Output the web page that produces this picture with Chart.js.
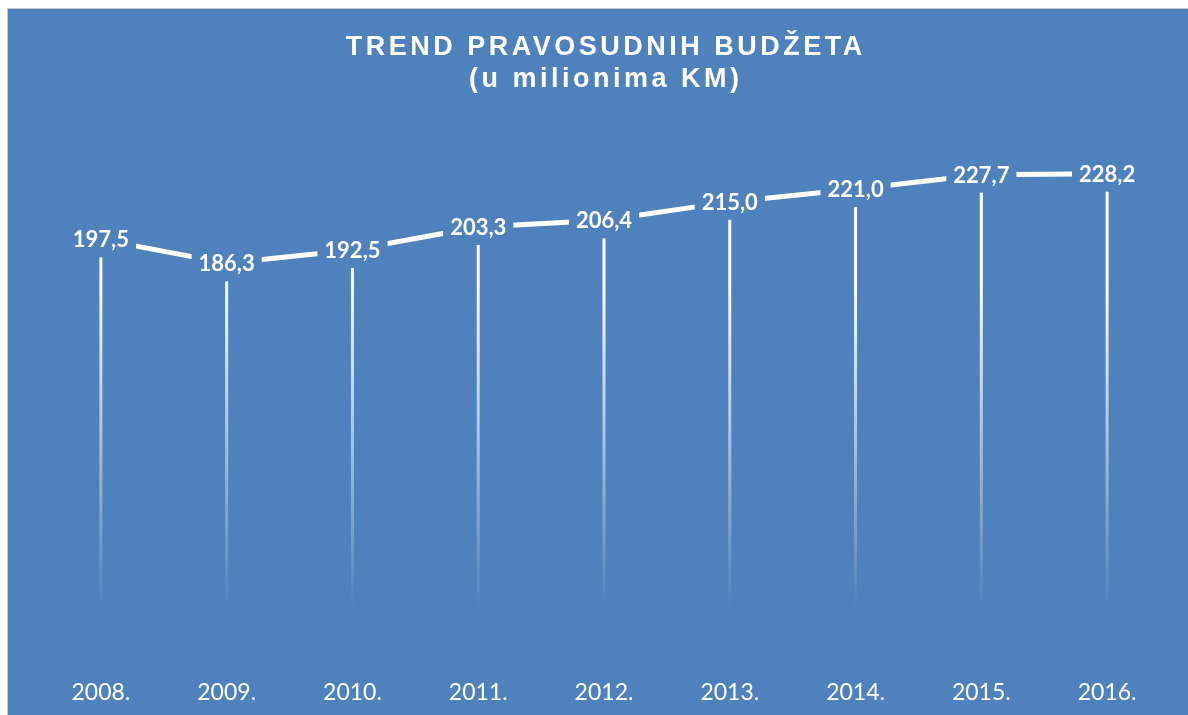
<!DOCTYPE html>
<html>
<head>
<meta charset="utf-8">
<script src="https://cdn.jsdelivr.net/npm/chart.js@4/dist/chart.umd.min.js"></script>
<style>
  html, body { margin: 0; background: #fff; overflow: hidden; }
  #wrap {
    position: absolute; left: 7px; top: 8px;
    width: 1200px; height: 720px;
    border-left: 1px solid #c9c9c9; border-top: 1px solid #c9c9c9;
    background: #4F81BD;
  }
  canvas { display: block; }
</style>
</head>
<body>
<div id="wrap"><canvas id="trend" width="1180" height="706"></canvas></div>
<script>
// podaci
const years = ['2008.', '2009.', '2010.', '2011.', '2012.', '2013.', '2014.', '2015.', '2016.'];
const budget = [197.5, 186.3, 192.5, 203.3, 206.4, 215.0, 221.0, 227.7, 228.2];
const titleLines = ['TREND PRAVOSUDNIH BUDŽETA', '(u milionima KM)'];

const BG = '#4F81BD';

// naslov sa razmakom slova
const titlePlugin = {
    id: 'titleText',
    afterDraw(chart) {
        const ctx = chart.ctx;
        const cx = (chart.chartArea.left + chart.chartArea.right) / 2;
        ctx.save();
        ctx.fillStyle = '#fff';
        ctx.font = 'bold 27px "Liberation Sans", Arial, sans-serif';
        ctx.letterSpacing = '3.5px';
        ctx.textAlign = 'center';
        ctx.textBaseline = 'middle';
        ctx.fillText(titleLines[0], cx + 1.75, 39);
        ctx.fillText(titleLines[1], cx + 1.75, 71);
        ctx.restore();
    }
};

// vertikalne linije od tačke do ose
const dropLines = {
    id: 'dropLines',
    beforeDatasetsDraw(chart) {
        const ctx = chart.ctx;
        const meta = chart.getDatasetMeta(0);
        const yScale = chart.scales.y;
        const grad = ctx.createLinearGradient(0, 270, 0, 602);
        grad.addColorStop(0, 'rgba(255,255,255,1)');
        grad.addColorStop(1, 'rgba(255,255,255,0)');
        ctx.save();
        ctx.strokeStyle = grad;
        ctx.lineWidth = 3;
        meta.data.forEach(pt => {
            ctx.beginPath();
            ctx.moveTo(pt.x, pt.y);
            ctx.lineTo(pt.x, yScale.getPixelForValue(0));
            ctx.stroke();
        });
        ctx.restore();
    }
};

// oznake vrijednosti
const valueLabels = {
    id: 'valueLabels',
    afterDatasetsDraw(chart) {
        const ctx = chart.ctx;
        const meta = chart.getDatasetMeta(0);
        ctx.save();
        ctx.font = 'bold 22px Lato, "Open Sans", sans-serif';
        ctx.textAlign = 'center';
        ctx.textBaseline = 'middle';
        meta.data.forEach((pt, i) => {
            const txt = budget[i].toFixed(1).replace('.', ',');
            const w = ctx.measureText(txt).width + 14;
            ctx.fillStyle = BG;
            ctx.fillRect(pt.x - w / 2, pt.y - 18, w, 36);
            ctx.fillStyle = '#fff';
            ctx.fillText(txt, pt.x, pt.y + 1);
        });
        ctx.restore();
    }
};

const ctx = document.getElementById('trend').getContext('2d');
new Chart(ctx, {
    type: 'line',
    data: {
        labels: years,
        datasets: [{
            data: budget,
            borderColor: '#fff',
            borderWidth: 5,
            pointRadius: 0,
            tension: 0,
            fill: false
        }]
    },
    options: {
        responsive: false,
        animation: false,
        layout: { padding: { top: 118, left: 30, right: 18, bottom: 0 } },
        plugins: {
            legend: { display: false },
            title: { display: false },
            tooltip: { enabled: false }
        },
        scales: {
            x: {
                offset: true,
                grid: { display: false, drawTicks: false },
                border: { display: false },
                afterFit: scale => { scale.height = 53; },
                ticks: {
                    color: '#fff',
                    padding: 17,
                    maxRotation: 0,
                    font: { family: 'Lato, "Open Sans", sans-serif', size: 23 }
                }
            },
            y: {
                display: false,
                min: 0,
                max: 250
            }
        }
    },
    plugins: [dropLines, valueLabels, titlePlugin]
});
</script>
</body>
</html>
